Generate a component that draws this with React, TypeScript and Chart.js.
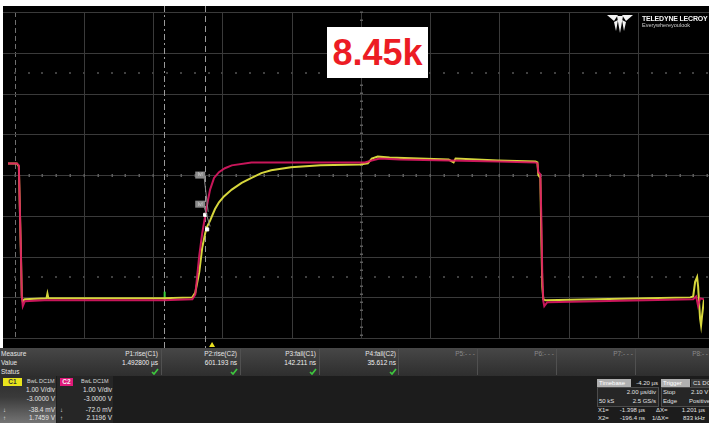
import React, { useEffect, useRef } from 'react';
import { Chart, registerables } from 'chart.js';

Chart.register(...registerables);

// ---- Scope data (time in µs relative to trigger, amplitude in V) ----
const xRange: [number, number] = [-5.893, 14.206];
const yRange: [number, number] = [-1.119, 7.024];
const xGridTimes = [-5.7, -3.7, -1.7, 0.3, 2.3, 4.3, 6.3, 8.3, 10.3, 12.3];
const yGridVolts = [-1, 0, 1, 2, 3, 4, 5, 6, 7];
const centerTime = 4.3;
const centerVolt = 3;
const dotRowVolts = [5.5, 0.5];
const cursorTimes = [-1.398, -0.196];
const triggerTime = 0;

const c2Trace: [number, number][] = [
  [-5.893, 3.286], [-5.637, 3.286], [-5.58, 3.238], [-5.523, 1.214], [-5.495, 0.024],
  [-5.466, -0.214], [-5.409, -0.095], [-4.84, -0.071], [-3.132, -0.071], [-1.423, -0.071],
  [-0.569, -0.048], [-0.484, 0.071], [-0.37, 1.024], [-0.285, 1.571], [-0.199, 2.0],
  [-0.114, 2.405], [-0.057, 2.643], [0.057, 2.929], [0.199, 3.071], [0.37, 3.167],
  [0.569, 3.238], [1.139, 3.31], [2.562, 3.31], [4.413, 3.31], [4.612, 3.357],
  [4.84, 3.405], [5.409, 3.381], [6.833, 3.357], [8.256, 3.333], [9.338, 3.31],
  [9.395, 3.286], [9.423, 3.071], [9.48, 3.024], [9.509, 1.929], [9.537, 0.5],
  [9.566, -0.095], [9.594, -0.214], [9.68, -0.119], [11.103, -0.095], [12.527, -0.071],
  [13.893, -0.048], [13.979, 0.024], [14.036, -0.214], [14.093, -0.024], [14.206, -0.048],
];

const c1Trace: [number, number][] = [
  [-5.893, 3.286], [-5.637, 3.286], [-5.58, 3.214], [-5.523, 1.214], [-5.495, 0.024],
  [-5.466, -0.095], [-5.409, -0.048], [-4.783, -0.024], [-4.754, 0.095], [-4.726, -0.024],
  [-3.132, -0.024], [-1.423, -0.024], [-0.569, 0.0], [-0.484, 0.119], [-0.37, 0.619],
  [-0.285, 1.214], [-0.199, 1.571], [-0.142, 1.738], [-0.057, 1.881], [0.0, 2.0],
  [0.085, 2.167], [0.199, 2.333], [0.342, 2.476], [0.569, 2.643], [0.854, 2.81],
  [1.139, 2.929], [1.423, 3.048], [1.708, 3.119], [2.278, 3.19], [3.132, 3.238],
  [4.27, 3.262], [4.498, 3.286], [4.612, 3.405], [4.783, 3.452], [5.125, 3.429],
  [5.979, 3.405], [6.833, 3.381], [6.975, 3.31], [7.032, 3.405], [8.256, 3.357],
  [9.338, 3.333], [9.395, 3.31], [9.423, 3.0], [9.48, 2.929], [9.509, 1.452],
  [9.537, 0.262], [9.566, -0.048], [9.623, -0.071], [11.103, -0.048], [12.527, -0.024],
  [13.808, 0.0], [13.893, 0.024], [13.95, 0.381], [14.007, 0.5], [14.036, 0.262],
  [14.093, -0.524], [14.121, -0.69], [14.15, -0.452], [14.206, -0.048],
];

const levelMarkers: [number, number][] = [[-0.199, 2.024], [-0.142, 1.667]];
const levelTags: [number, number][] = [[-0.342, 3.0], [-0.342, 2.286]];

// ---- Panel texts ----
const measureRowLabels = ['Measure', 'Value', 'Status'];
const measureHeaders = ['P1:rise(C1)', 'P2:rise(C2)', 'P3:fall(C1)', 'P4:fall(C2)'];
const measureValues = ['1.492800 µs', '601.193 ns', '142.211 ns', '35.612 ns'];
const emptyHeaders = ['P5:- - -', 'P6:- - -', 'P7:- - -', 'P8:- - -'];
const c1Info = ['BwL DC1M', '1.00 V/div', '-3.0000 V', '-38.4 mV', '1.7459 V'];
const c2Info = ['BwL DC1M', '1.00 V/div', '-3.0000 V', '-72.0 mV', '2.1196 V'];

const GRID = '#3a3a3a';

const scopePlugin = {
  id: 'scopeGrid',
  beforeDatasetsDraw(chart: any) {
    const { ctx } = chart;
    const xs = chart.scales.x;
    const ys = chart.scales.y;
    const W = chart.width;
    const top = ys.getPixelForValue(yGridVolts[yGridVolts.length - 1]);
    const bottom = ys.getPixelForValue(yGridVolts[0]);
    const left = xs.getPixelForValue(xGridTimes[0]);
    const divX = xs.getPixelForValue(xGridTimes[1]) - left;
    ctx.save();
    ctx.lineWidth = 1;
    xGridTimes.forEach((t, i) => {
      const px = Math.round(xs.getPixelForValue(t)) + 0.5;
      ctx.beginPath();
      if (i === 0) {
        ctx.strokeStyle = '#707070';
        ctx.setLineDash([5, 3]);
      } else {
        ctx.strokeStyle = GRID;
        ctx.setLineDash([]);
      }
      ctx.moveTo(px, top);
      ctx.lineTo(px, bottom);
      ctx.stroke();
    });
    ctx.setLineDash([]);
    yGridVolts.forEach((v) => {
      const py = Math.round(ys.getPixelForValue(v)) + 0.5;
      ctx.beginPath();
      ctx.strokeStyle = GRID;
      ctx.moveTo(0, py);
      ctx.lineTo(W, py);
      ctx.stroke();
    });
    const cy = Math.round(ys.getPixelForValue(centerVolt)) + 0.5;
    const cx = Math.round(xs.getPixelForValue(centerTime)) + 0.5;
    ctx.fillStyle = '#5e5e5e';
    for (let px = left; px < W; px += divX / 5) {
      ctx.fillRect(Math.round(px) - 0.5, cy - 1.5, 1.5, 3);
    }
    const divY = ys.getPixelForValue(centerVolt - 1) - cy;
    for (let py = top; py < bottom; py += divY / 5) {
      ctx.fillRect(cx - 1.5, Math.round(py) - 0.5, 3, 1.5);
    }
    ctx.fillStyle = '#404040';
    dotRowVolts.forEach((v) => {
      const py = Math.round(ys.getPixelForValue(v));
      for (let px = left; px < W; px += divX / 5) {
        ctx.fillRect(Math.round(px) - 1, py - 1, 2, 2);
      }
    });
    ctx.strokeStyle = '#9a9a9a';
    cursorTimes.forEach((t, i) => {
      const px = Math.round(xs.getPixelForValue(t)) + 0.5;
      ctx.beginPath();
      ctx.setLineDash(i === 0 ? [6, 3, 2, 3] : [6, 4]);
      ctx.moveTo(px, 0);
      ctx.lineTo(px, chart.height);
      ctx.stroke();
    });
    ctx.setLineDash([]);
    ctx.strokeStyle = '#3ad03a';
    ctx.lineWidth = 2;
    const gx = xs.getPixelForValue(cursorTimes[0]) + 1;
    ctx.beginPath();
    ctx.moveTo(gx, ys.getPixelForValue(-0.08));
    ctx.lineTo(gx, ys.getPixelForValue(0.14));
    ctx.stroke();
    ctx.restore();
  },
  afterDatasetsDraw(chart: any) {
    const { ctx } = chart;
    const xs = chart.scales.x;
    const ys = chart.scales.y;
    ctx.save();
    levelTags.forEach((tag, i) => {
      const tx = xs.getPixelForValue(tag[0]);
      const ty = ys.getPixelForValue(tag[1]);
      const mx = xs.getPixelForValue(levelMarkers[i][0]);
      const my = ys.getPixelForValue(levelMarkers[i][1]);
      ctx.strokeStyle = '#8c8c8c';
      ctx.lineWidth = 1;
      ctx.beginPath();
      ctx.moveTo(tx + 4, ty + 3);
      ctx.lineTo(mx + 3, my - 3);
      ctx.stroke();
      ctx.fillStyle = '#8a8a8a';
      ctx.fillRect(tx - 5, ty - 3.5, 10, 7);
      ctx.fillStyle = '#d8d8d8';
      ctx.font = '5px "Liberation Sans", sans-serif';
      ctx.textAlign = 'center';
      ctx.textBaseline = 'middle';
      ctx.fillText('lvl', tx, ty);
    });
    const trx = xs.getPixelForValue(triggerTime);
    const h = chart.height;
    ctx.fillStyle = '#e8e020';
    ctx.beginPath();
    ctx.moveTo(trx, h - 6);
    ctx.lineTo(trx - 3, h - 1);
    ctx.lineTo(trx + 3, h - 1);
    ctx.closePath();
    ctx.fill();
    ctx.restore();
  },
};

const FONT = '"Liberation Sans", Arial, sans-serif';

function T(props: {
  x: number; y: number; text: string; align?: 'left' | 'right' | 'center';
  color?: string; size?: number; bold?: boolean; spacing?: number;
}) {
  const { x, y, text, align = 'left', color = '#e2e2e2', size = 6.5, bold = false, spacing = 0 } = props;
  const lh = size + 2;
  const style: React.CSSProperties = {
    position: 'absolute',
    top: y - lh / 2,
    fontSize: size,
    lineHeight: `${lh}px`,
    color,
    fontWeight: bold ? 700 : 400,
    whiteSpace: 'nowrap',
    fontFamily: FONT,
    letterSpacing: spacing,
  };
  if (align === 'right') {
    style.left = x - 200;
    style.width = 200;
    style.textAlign = 'right';
  } else if (align === 'center') {
    style.left = x - 100;
    style.width = 200;
    style.textAlign = 'center';
  } else {
    style.left = x;
  }
  return <div style={style}>{text}</div>;
}

function Check({ x, y }: { x: number; y: number }) {
  return (
    <svg style={{ position: 'absolute', left: x, top: y }} width={8} height={7} viewBox="0 0 8 7">
      <path d="M1 4 L3 6 L7 1" stroke="#3ec63e" strokeWidth={1.7} fill="none" />
    </svg>
  );
}

export default function App() {
  const canvasRef = useRef<HTMLCanvasElement | null>(null);

  useEffect(() => {
    if (!canvasRef.current) return;
    const toPts = (arr: [number, number][]) => arr.map(([x, y]) => ({ x, y }));
    const chart = new Chart(canvasRef.current, {
      type: 'scatter',
      data: {
        datasets: [
          {
            label: 'markers',
            data: toPts(levelMarkers),
            pointStyle: 'rect',
            pointRadius: 2.2,
            backgroundColor: '#ffffff',
            borderColor: '#ffffff',
            showLine: false,
          } as any,
          {
            label: 'C2',
            data: toPts(c2Trace),
            borderColor: 'rgba(222,24,100,0.9)',
            borderWidth: 2,
            pointRadius: 0,
            showLine: true,
            tension: 0,
          },
          {
            label: 'C1',
            data: toPts(c1Trace),
            borderColor: 'rgb(214,214,60)',
            borderWidth: 2,
            pointRadius: 0,
            showLine: true,
            tension: 0,
          },
        ],
      },
      options: {
        animation: false,
        responsive: false,
        maintainAspectRatio: false,
        layout: { padding: 0 },
        plugins: { legend: { display: false }, tooltip: { enabled: false } },
        scales: {
          x: { type: 'linear', min: xRange[0], max: xRange[1], display: false },
          y: { type: 'linear', min: yRange[0], max: yRange[1], display: false },
        },
      },
      plugins: [scopePlugin],
    });
    return () => chart.destroy();
  }, []);

  const measureRight = [158, 237, 316, 396];
  const emptyRight = [475, 554, 633, 712];
  const separators = [161, 240, 319, 398, 477, 556, 635];

  return (
    <div style={{ position: 'fixed', left: 0, top: 0, width: 709, height: 423, background: '#ffffff', overflow: 'hidden', fontFamily: FONT }}>
      <div style={{ position: 'absolute', left: 3, top: 6, width: 706, height: 342, background: '#000' }}>
        <canvas ref={canvasRef} width={706} height={342} style={{ display: 'block', width: 706, height: 342 }} />
      </div>

      {/* logo */}
      <svg style={{ position: 'absolute', left: 605, top: 12 }} width={30} height={22} viewBox="0 0 30 22">
        <polygon points="2,3 13,3 9,9" fill="#f2f2f2" />
        <polygon points="17,3 28,3 21,9" fill="#f2f2f2" />
        <polygon points="12,4 18,4 15,21" fill="#f2f2f2" />
        <polygon points="9,10 13,8 11,19" fill="#f2f2f2" />
        <polygon points="17,8 21,10 19,19" fill="#f2f2f2" />
      </svg>
      <T x={642} y={18} text="TELEDYNE LECROY" color="#f4f4f4" size={7} bold spacing={-0.2} />
      <T x={642} y={26} text="Everywhereyoulook" color="#cfcfcf" size={5.5} />

      <div style={{ position: 'absolute', left: 327, top: 27, width: 101, height: 51, background: '#ffffff', color: '#ec1c24', fontWeight: 700, fontSize: 36, lineHeight: '51px', textAlign: 'center', fontFamily: FONT }}>
        8.45k
      </div>

      {/* measure panel */}
      <div style={{ position: 'absolute', left: 0, top: 348, width: 709, height: 28, background: 'linear-gradient(#474747, #2e2e2e)' }} />
      {separators.map((sx) => (
        <div key={sx} style={{ position: 'absolute', left: sx, top: 349, width: 1, height: 26, background: '#505050' }} />
      ))}
      {measureRowLabels.map((l, i) => (
        <T key={l} x={1} y={354 + i * 9} text={l} color="#e6e6e6" />
      ))}
      {measureHeaders.map((h, i) => (
        <T key={h} x={measureRight[i]} y={354} text={h} align="right" color="#e6e6e6" />
      ))}
      {measureValues.map((v, i) => (
        <T key={v} x={measureRight[i]} y={363} text={v} align="right" color="#f0f0f0" />
      ))}
      {measureRight.map((r) => (
        <Check key={r} x={r - 7} y={368} />
      ))}
      {emptyHeaders.map((h, i) => (
        <T key={h} x={emptyRight[i]} y={354} text={h} align="right" color="#8a8a8a" />
      ))}

      {/* lower panel */}
      <div style={{ position: 'absolute', left: 0, top: 376, width: 709, height: 47, background: '#1c1c1c' }} />
      <div style={{ position: 'absolute', left: 0, top: 376, width: 56, height: 47, background: 'linear-gradient(#2c2c2c 0%, #3a3a3a 45%, #747474 100%)' }} />
      <div style={{ position: 'absolute', left: 57, top: 376, width: 56, height: 47, background: '#262626' }} />
      <div style={{ position: 'absolute', left: 3, top: 378, width: 19, height: 8, background: '#e8e41c', color: '#333', fontSize: 6.5, lineHeight: '8px', textAlign: 'center', fontWeight: 700, fontFamily: FONT }}>C1</div>
      <div style={{ position: 'absolute', left: 60, top: 378, width: 13, height: 8, background: '#e0197a', color: '#f4f4f4', fontSize: 6.5, lineHeight: '8px', textAlign: 'center', fontWeight: 700, fontFamily: FONT }}>C2</div>
      <T x={27} y={382} text={c1Info[0]} size={5.5} color="#d8d8d8" />
      <T x={55} y={390} text={c1Info[1]} align="right" />
      <T x={55} y={399} text={c1Info[2]} align="right" />
      <T x={55} y={410} text={c1Info[3]} align="right" />
      <T x={55} y={418} text={c1Info[4]} align="right" />
      <T x={3} y={410} text="↓" size={6} />
      <T x={3} y={418} text="↑" size={6} />
      <T x={81} y={382} text={c2Info[0]} size={5.5} color="#d8d8d8" />
      <T x={112} y={390} text={c2Info[1]} align="right" />
      <T x={112} y={399} text={c2Info[2]} align="right" />
      <T x={112} y={410} text={c2Info[3]} align="right" />
      <T x={112} y={418} text={c2Info[4]} align="right" />
      <T x={60} y={410} text="↓" size={6} />
      <T x={60} y={418} text="↑" size={6} />

      {/* timebase */}
      <div style={{ position: 'absolute', left: 597, top: 379, width: 34, height: 8, background: '#b0b0b0' }} />
      <T x={599} y={383} text="Timebase" color="#ffffff" size={6} />
      <T x={658} y={383} text="-4.20 µs" align="right" size={6} />
      <div style={{ position: 'absolute', left: 597, top: 387, width: 60, height: 18, border: '1px solid #4c4c4c', background: '#262626' }} />
      <T x={656} y={392} text="2.00 µs/div" align="right" size={6} />
      <T x={599} y={401} text="50 kS" size={6} />
      <T x={656} y={401} text="2.5 GS/s" align="right" size={6} />

      {/* trigger */}
      <div style={{ position: 'absolute', left: 661, top: 379, width: 29, height: 8, background: '#b0b0b0' }} />
      <T x={663} y={383} text="Trigger" color="#ffffff" size={6} />
      <div style={{ position: 'absolute', left: 691, top: 379, width: 20, height: 8, background: '#3a3a3a' }} />
      <T x={693} y={383} text="C1 DC" size={6} />
      <div style={{ position: 'absolute', left: 661, top: 387, width: 50, height: 18, border: '1px solid #4c4c4c', background: '#262626' }} />
      <T x={663} y={392} text="Stop" size={6} />
      <T x={691} y={392} text="2.10 V" size={6} />
      <T x={663} y={401} text="Edge" size={6} />
      <T x={689} y={401} text="Positive" size={6} />

      {/* cursors readout */}
      <T x={598} y={410} text="X1=" size={6} />
      <T x={645} y={410} text="-1.398 µs" align="right" size={6} />
      <T x={656} y={410} text="ΔX=" size={6} />
      <T x={705} y={410} text="1.201 µs" align="right" size={6} />
      <T x={598} y={418} text="X2=" size={6} />
      <T x={645} y={418} text="-196.4 ns" align="right" size={6} />
      <T x={652} y={418} text="1/ΔX=" size={6} />
      <T x={705} y={418} text="833 kHz" align="right" size={6} />
    </div>
  );
}
